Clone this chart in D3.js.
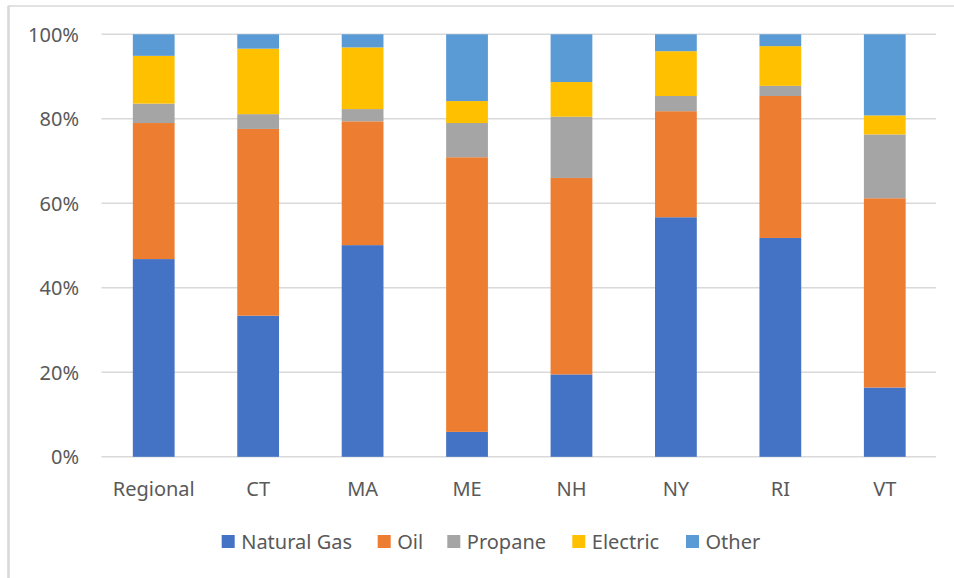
<!DOCTYPE html>
<html><head><meta charset="utf-8">
<script src="https://cdn.jsdelivr.net/npm/d3@7"></script>
<style>html,body{margin:0;padding:0;background:#fff;}svg{display:block;}</style>
</head><body>
<svg id="chart" width="954" height="578"></svg>
<script>
const categories = ["Regional","CT","MA","ME","NH","NY","RI","VT"];
const seriesNames = ["Natural Gas","Oil","Propane","Electric","Other"];
const naturalGas = [46.8,33.4,50.1,5.9,19.5,56.7,51.8,16.4];
const oil        = [32.2,44.2,29.3,65.0,46.5,25.1,33.6,44.8];
const propane    = [4.6,3.5,2.9,8.1,14.5,3.6,2.4,15.1];
const electric   = [11.3,15.5,14.6,5.2,8.2,10.6,9.4,4.5];
const other      = [5.1,3.4,3.1,15.8,11.3,4.0,2.8,19.2];
const yTicks = [0,0.2,0.4,0.6,0.8,1.0];
const colors = ["#4472C4","#ED7D31","#A5A5A5","#FFC000","#5B9BD5"];

const seriesArrays = [naturalGas, oil, propane, electric, other];
const rows = categories.map((c,i)=>{
  const r = {cat:c};
  seriesNames.forEach((s,j)=> r[s] = seriesArrays[j][i]);
  return r;
});

const svg = d3.select("#chart");
const font = "'Noto Sans', sans-serif";
const textColor = "#595959";

// chart border
svg.append("rect").attr("x",8.5).attr("y",6).attr("width",980).attr("height",600)
  .attr("fill","none").attr("stroke","#d9d9d9").attr("stroke-width",1.5);
svg.append("line").attr("x1",8.5).attr("x2",8.5).attr("y1",6).attr("y2",578)
  .attr("stroke","#d9d9d9").attr("stroke-width",2.5);

const x = d3.scaleBand().domain(categories).range([101.5,937]).paddingInner(0.6).paddingOuter(0.3);
const y = d3.scaleLinear().domain([0,1]).range([456.8,34.3]);

// gridlines
svg.append("g").selectAll("line").data(yTicks).join("line")
  .attr("x1",101.5).attr("x2",936).attr("y1",d=>y(d)).attr("y2",d=>y(d))
  .attr("stroke","#d9d9d9").attr("stroke-width",1.5);

// y axis labels
const yAxis = d3.axisLeft(y).tickValues(yTicks).tickFormat(d3.format(".0%")).tickSize(0).tickPadding(0);
const ya = svg.append("g").attr("transform","translate(79,0)").call(yAxis);
ya.select(".domain").remove();
ya.selectAll("text").attr("font-family",font).attr("font-size",20).attr("fill",textColor).attr("dy","0.35em");

// stacked bars
const stack = d3.stack().keys(seriesNames).value((d,k)=>d[k]/100);
const stacked = stack(rows);
svg.append("g").selectAll("g").data(stacked).join("g")
  .attr("fill",(d,i)=>colors[i])
  .selectAll("rect").data(d=>d).join("rect")
  .attr("x",d=>x(d.data.cat))
  .attr("width",x.bandwidth())
  .attr("y",d=>y(d[1]))
  .attr("height",d=>y(d[0])-y(d[1]));

// x axis labels
const xAxis = d3.axisBottom(x).tickSize(0).tickPadding(0);
const xa = svg.append("g").attr("transform","translate(0,489)").call(xAxis);
xa.select(".domain").remove();
xa.selectAll("text").attr("font-family",font).attr("font-size",20).attr("fill",textColor).attr("dy","0.35em");

// legend
const legendX = [221.7,377.7,447.3,572.3,686];
const lg = svg.append("g").selectAll("g").data(seriesNames).join("g")
  .attr("transform",(d,i)=>`translate(${legendX[i]},541.5)`);
lg.append("rect").attr("x",0).attr("y",-6.5).attr("width",13).attr("height",13).attr("fill",(d,i)=>colors[i]);
lg.append("text").attr("x",19.5).attr("dy","0.35em").text(d=>d)
  .attr("font-family",font).attr("font-size",20).attr("fill",textColor);
</script>
</body></html>
